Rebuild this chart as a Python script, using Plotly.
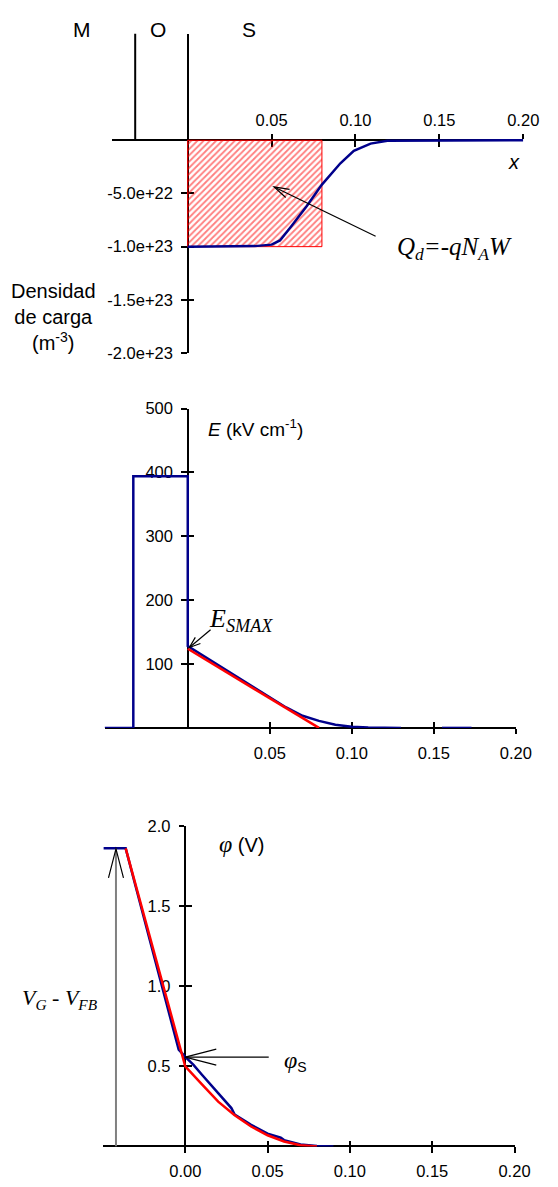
import math
import plotly.graph_objects as go

W_PX, H_PX = 558, 1187

# ---------------- data: panel 1 (charge density) ----------------
rho_x = [0.0, 0.02, 0.04, 0.05, 0.055, 0.062, 0.071, 0.08, 0.091, 0.099, 0.109, 0.119, 0.15, 0.20]
rho_y = [-1.0e23, -1.0e23, -0.995e23, -0.981e23, -0.942e23, -0.803e23, -0.617e23,
         -0.417e23, -0.216e23, -0.099e23, -0.031e23, -0.004e23, 0.0, 0.0]
dep_W = 0.08
dep_rho = -1.0e23
ox1_x = -0.0313
rho_tickvals = [-5e22, -1e23, -1.5e23, -2e23]
rho_ticktext = ["-5.0e+22", "-1.0e+23", "-1.5e+23", "-2.0e+23"]
x1_tickvals = [0.05, 0.10, 0.15, 0.20]
x1_ticktext = ["0.05", "0.10", "0.15", "0.20"]

# ---------------- data: panel 2 (electric field) ----------------
E_x = [-0.0507, -0.0332, -0.0332, 0.0, 0.0, 0.01, 0.02, 0.03, 0.04, 0.05, 0.06, 0.07,
       0.08, 0.09, 0.10, 0.11, 0.12, 0.13, None, 0.155, 0.173]
E_y = [0, 0, 394, 394, 128, 112, 96, 80, 64, 48, 32, 19, 11, 5, 2, 0.7, 0.2, 0, None, 0, 0]
Ered_x = [0.0, 0.08]
Ered_y = [124, 0]
E_tickvals = [100, 200, 300, 400, 500]
E_ticktext = ["100", "200", "300", "400", "500"]
x2_tickvals = [0.05, 0.10, 0.15, 0.20]
x2_ticktext = ["0.05", "0.10", "0.15", "0.20"]

# ---------------- data: panel 3 (potential) ----------------
phi_x = [-0.0496, -0.0362, -0.03, -0.02, -0.01, -0.004, 0.0, 0.005, 0.01, 0.02, 0.028,
         0.03, 0.04, 0.05, 0.058, 0.06, 0.07, 0.08, 0.09]
phi_y = [1.863, 1.863, 1.62, 1.23, 0.84, 0.605, 0.56, 0.51, 0.45, 0.33, 0.24,
         0.20, 0.135, 0.08, 0.055, 0.04, 0.012, 0.003, 0.0]
phired_x = [-0.0362, 0.0, 0.01, 0.02, 0.03, 0.04, 0.05, 0.06, 0.07, 0.08]
phired_y = [1.863, 0.50, 0.39, 0.28, 0.195, 0.125, 0.07, 0.031, 0.008, 0.0]
phi_tickvals = [0.5, 1.0, 1.5, 2.0]
phi_ticktext = ["0.5", "1.0", "1.5", "2.0"]
x3_tickvals = [0.0, 0.05, 0.10, 0.15, 0.20]
x3_ticktext = ["0.00", "0.05", "0.10", "0.15", "0.20"]
VG_arrow_x = -0.0421
VG_top = 1.86
phiS_y = 0.558

BLUE = "#00008B"
RED = "#FF0000"
SANS = "Liberation Sans"
SERIF = "Liberation Serif"


def px(x):
    return x / W_PX


def py(y):
    return 1 - y / H_PX


fig = go.Figure()

# panel 1
fig.add_trace(go.Scatter(
    x=[0, 0, dep_W, dep_W, 0], y=[0, dep_rho, dep_rho, 0, 0],
    mode="lines", fill="toself", fillcolor="rgba(0,0,0,0)",
    fillpattern=dict(shape="/", fgcolor=RED, bgcolor="rgba(0,0,0,0)", size=4.4, solidity=0.42),
    line=dict(color=RED, width=1), xaxis="x", yaxis="y", showlegend=False, hoverinfo="skip"))
fig.add_trace(go.Scatter(x=rho_x, y=rho_y, mode="lines", line=dict(color=BLUE, width=2.5),
                         xaxis="x", yaxis="y", showlegend=False, cliponaxis=False))
# panel 2
fig.add_trace(go.Scatter(x=E_x, y=E_y, mode="lines", line=dict(color=BLUE, width=2.5),
                         xaxis="x2", yaxis="y2", showlegend=False, cliponaxis=False))
fig.add_trace(go.Scatter(x=Ered_x, y=Ered_y, mode="lines", line=dict(color=RED, width=2.5),
                         xaxis="x2", yaxis="y2", showlegend=False, cliponaxis=False))
# panel 3
fig.add_trace(go.Scatter(x=phi_x, y=phi_y, mode="lines", line=dict(color=BLUE, width=2.5),
                         xaxis="x3", yaxis="y3", showlegend=False, cliponaxis=False))
fig.add_trace(go.Scatter(x=phired_x, y=phired_y, mode="lines", line=dict(color=RED, width=2.5),
                         xaxis="x3", yaxis="y3", showlegend=False, cliponaxis=False))
# empty traces for the inner-tick overlay axes
for i in (4, 5, 6):
    fig.add_trace(go.Scatter(x=[], y=[], xaxis=f"x{i}", yaxis=f"y{i}", showlegend=False))

TICKFONT = dict(family=SANS, size=16.5, color="black")


def xaxis(domain, rng, pos, tv, tt, side, standoff):
    return dict(domain=domain, range=rng, anchor="free", position=pos, side=side,
                showline=True, linecolor="black", linewidth=2, ticks="outside", ticklen=5.5,
                tickwidth=1.5, tickcolor="black", tickvals=tv, ticktext=tt, tickfont=TICKFONT,
                ticklabelstandoff=standoff,
                showgrid=False, zeroline=False, layer="below traces", fixedrange=True)


def yaxis(domain, rng, pos, tv, tt):
    return dict(domain=domain, range=rng, anchor="free", position=pos, side="left",
                showline=True, linecolor="black", linewidth=2, ticks="outside", ticklen=5.5,
                tickwidth=1.5, tickcolor="black", tickvals=tv, ticktext=tt, tickfont=TICKFONT,
                ticklabelstandoff=5,
                showgrid=False, zeroline=False, layer="below traces", fixedrange=True)


def dup(main, rng, pos, tv, side):
    return dict(overlaying=main, range=rng, anchor="free", position=pos, side=side,
                showline=False, ticks="inside", ticklen=5.5, tickwidth=1.5, tickcolor="black",
                tickvals=tv, showticklabels=False, showgrid=False, zeroline=False,
                layer="below traces", fixedrange=True)


x1_rng = [-0.0453, 0.2]
y1_rng = [-2e23, 1.003e23]
x2_rng = [-0.0507, 0.2]
y2_rng = [0, 500]
x3_rng = [-0.05, 0.2]
y3_rng = [0, 2.0]

layout = dict(
    width=W_PX, height=H_PX, margin=dict(l=0, r=0, t=0, b=0),
    paper_bgcolor="white", plot_bgcolor="rgba(0,0,0,0)", showlegend=False,
    xaxis=xaxis([px(115), px(538.7)], x1_rng, py(133.3), x1_tickvals, x1_ticktext, "top", 1),
    yaxis=yaxis([py(349.3), py(25)], y1_rng, px(193.3), rho_tickvals, rho_ticktext),
    xaxis2=xaxis([px(107.7), px(531)], x2_rng, py(730), x2_tickvals, x2_ticktext, "bottom", 5),
    yaxis2=yaxis([py(730), py(405.7)], y2_rng, px(193.3), E_tickvals, E_ticktext),
    xaxis3=xaxis([px(106), px(529.7)], x3_rng, py(1155), x3_tickvals, x3_ticktext, "bottom", 4),
    yaxis3=yaxis([py(1155), py(830)], y3_rng, px(190.7), phi_tickvals, phi_ticktext),
    xaxis4=dup("x", x1_rng, py(133.3), x1_tickvals, "top"),
    yaxis4=dup("y", y1_rng, px(193.3), rho_tickvals, "left"),
    xaxis5=dup("x2", x2_rng, py(730), x2_tickvals, "bottom"),
    yaxis5=dup("y2", y2_rng, px(193.3), E_tickvals, "left"),
    xaxis6=dup("x3", x3_rng, py(1155), x3_tickvals, "bottom"),
    yaxis6=dup("y3", y3_rng, px(190.7), phi_tickvals, "left"),
)
fig.update_layout(**layout)


def head(xref, yref, xa, ya, ang, length, hw, color="black", width=1.2):
    a = math.radians(ang)
    ux, uy = math.cos(a), math.sin(a)
    bx, by = -ux * length, -uy * length
    nx, ny = -uy, ux
    p1 = (bx + nx * hw, by + ny * hw)
    p2 = (bx - nx * hw, by - ny * hw)
    path = f"M {p1[0]:.2f},{p1[1]:.2f} L 0,0 L {p2[0]:.2f},{p2[1]:.2f}"
    return dict(type="path", xref=xref, yref=yref, xsizemode="pixel", ysizemode="pixel",
                xanchor=xa, yanchor=ya, path=path, fillcolor="rgba(0,0,0,0)",
                line=dict(color=color, width=width))


shapes = [
    # oxide boundary in panel 1
    dict(type="line", xref="x", yref="y", x0=ox1_x, x1=ox1_x, y0=0, y1=y1_rng[1],
         line=dict(color="black", width=2), layer="below"),
    # Q_d arrow
    dict(type="line", xref="x", yref="y", x0=0.112, y0=-9.02e22, x1=0.0515, y1=-4.39e22,
         line=dict(color="black", width=1.2)),
    head("x", "y", 0.0515, -4.39e22, 154.4, 15, 4.5),
    # E_SMAX arrow
    dict(type="line", xref="x2", yref="y2", x0=0.0139, y0=153.8, x1=0.001, y1=126,
         line=dict(color="black", width=1.2)),
    head("x2", "y2", 0.001, 126, 219.7, 11, 4),
    # V_G - V_FB arrow
    dict(type="line", xref="x3", yref="y3", x0=VG_arrow_x, y0=0, x1=VG_arrow_x, y1=VG_top,
         line=dict(color="#808080", width=2)),
    head("x3", "y3", VG_arrow_x, VG_top, 90, 29, 7.5, width=1.2),
    # phi_S arrow
    dict(type="line", xref="x3", yref="y3", x0=0.0507, y0=phiS_y, x1=0.0, y1=phiS_y,
         line=dict(color="black", width=1.2)),
    head("x3", "y3", 0.0, phiS_y, 180, 31, 8),
]
fig.update_layout(shapes=shapes)


def txt(x, y, text, size, family=SANS, xanchor="center", yanchor="middle", align="center"):
    return dict(x=px(x), y=py(y), xref="paper", yref="paper", text=text, showarrow=False,
                xanchor=xanchor, yanchor=yanchor, align=align,
                font=dict(family=family, size=size, color="black"))


annotations = [
    txt(84.3, 21, "M", 21),
    txt(162.7, 21, "O", 21),
    txt(256, 21, "S", 21),
    txt(529, 155.7, "<i>x</i>", 20),
    txt(467.5, 243, "<i>Q<sub>d</sub>=-qN<sub>A</sub>W</i>", 25, family=SERIF),
    txt(55, 313, "Densidad<br>de carga<br>(m<sup>-3</sup>)", 20),
    txt(211.7, 425, "<i>E</i> (kV cm<sup>-1</sup>)", 19, xanchor="left"),
    txt(213.3, 620, "<i>E<sub>SMAX</sub></i>", 26, family=SERIF, xanchor="left"),
    txt(223.3, 848.3, "<span style='font-family:Liberation Serif;font-size:24px'><i>φ</i></span> (V)", 20,
        xanchor="left"),
    txt(290, 1068, "<span style='font-family:Liberation Serif;font-size:24px'><i>φ</i></span><sub>S</sub>", 20,
        xanchor="left"),
    txt(62, 1005, "<i>V<sub>G</sub> - V<sub>FB</sub></i>", 22, family=SERIF),
]
fig.update_layout(annotations=annotations)

fig.write_html("out.html")
